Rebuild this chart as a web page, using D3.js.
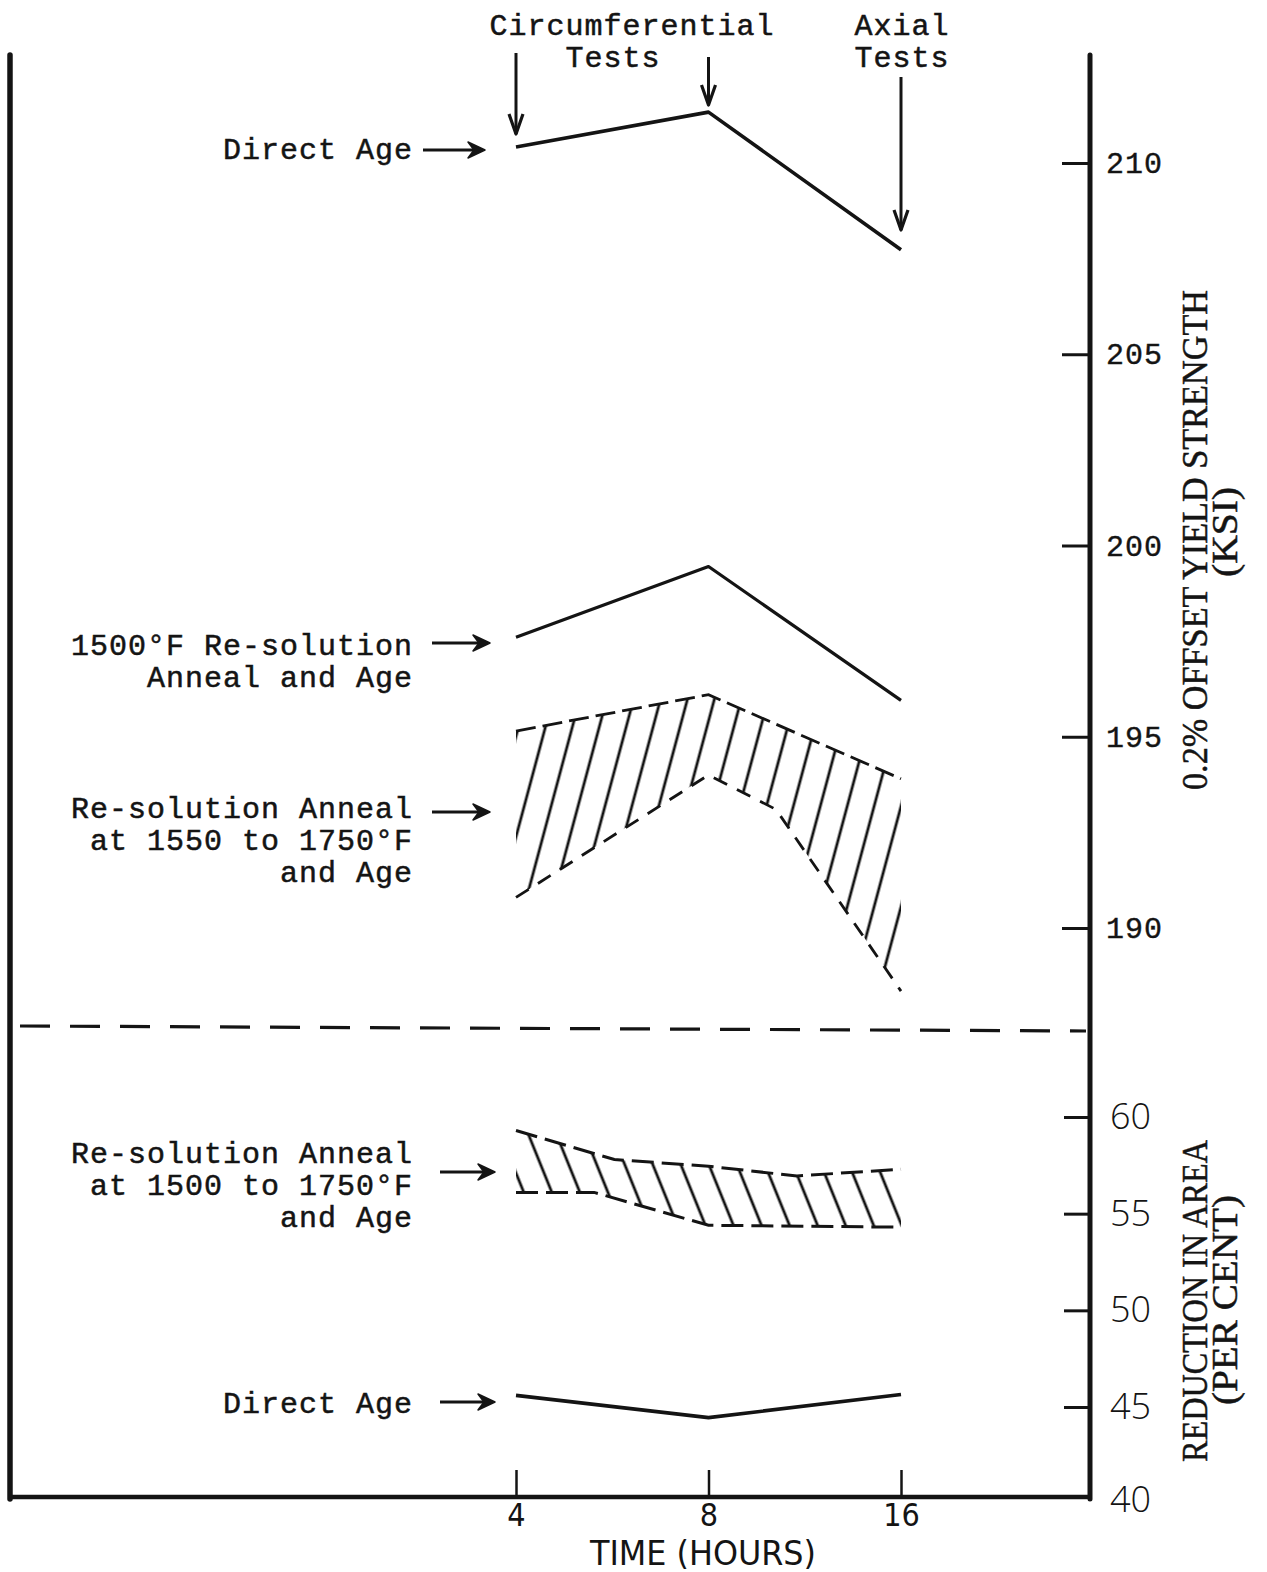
<!DOCTYPE html>
<html><head><meta charset="utf-8">
<script src="https://cdn.jsdelivr.net/npm/d3@7"></script>
<style>html,body{margin:0;padding:0;background:#fff;} svg{display:block;}</style>
</head><body>
<script>
// ---------------- data ----------------
const timeTicks = [4, 8, 16];
const hours = [4, 8, 16];
const directAgeYield = [210.42, 211.33, 207.73];
const resolution1500Yield = [197.6, 199.45, 195.95];
const bandYieldUpperHours = [4, 8, 16];
const bandYieldUpper = [195.15, 196.1, 193.9];
const bandYieldLowerHours = [4, 8, 10.2, 16];
const bandYieldLower = [190.8, 194.0, 193.1, 188.35];
const bandRAUpperHours = [4, 5.7, 8, 11, 16];
const bandRAUpper = [59.3, 57.8, 57.45, 56.95, 57.3];
const bandRALowerHours = [4, 5.3, 8, 16];
const bandRALower = [56.1, 56.1, 54.4, 54.3];
const directAgeRA = [45.6, 44.45, 45.65];
const yieldTicks = [190, 195, 200, 205, 210];
const raTicks = [40, 45, 50, 55, 60];

const W = 1267, H = 1572;
const svg = d3.select("body").append("svg").attr("width", W).attr("height", H)
  .style("background", "#fff");
const ink = "#141414";
const mono = "'Liberation Mono', 'DejaVu Sans Mono', monospace";
const narrow = "'Liberation Sans Narrow', 'DejaVu Sans Condensed', sans-serif";

// ---------------- scales ----------------
const x = d3.scaleLog().base(2).domain([4, 16]).range([516, 901]);
const yS = d3.scaleLinear().domain([190, 210]).range([928, 163]);
const yR = d3.scaleLinear().domain([45, 60]).range([1407, 1117]);

const frame = {left: 10, right: 1090, top: 55, bottom: 1497};

// ---------------- defs ----------------
const defs = svg.append("defs");
function hatch(id, rot, sp) {
  const p = defs.append("pattern").attr("id", id).attr("patternUnits", "userSpaceOnUse")
    .attr("width", sp).attr("height", sp).attr("patternTransform", `rotate(${rot})`);
  p.append("line").attr("x1", sp / 2).attr("x2", sp / 2).attr("y1", -1).attr("y2", sp + 1)
    .attr("stroke", ink).attr("stroke-width", 2.8);
}
hatch("hatchYield", 15, 26);
hatch("hatchRA", -22, 26);

// ---------------- frame ----------------
const g = svg.append("g");
g.append("line").attr("x1", frame.left).attr("x2", frame.left)
  .attr("y1", frame.top).attr("y2", frame.bottom + 2)
  .attr("stroke", ink).attr("stroke-width", 5.5).attr("stroke-linecap", "round");
g.append("line").attr("x1", frame.right).attr("x2", frame.right)
  .attr("y1", frame.top).attr("y2", frame.bottom + 2)
  .attr("stroke", ink).attr("stroke-width", 5).attr("stroke-linecap", "round");
g.append("line").attr("x1", frame.left).attr("x2", frame.right + 2)
  .attr("y1", frame.bottom).attr("y2", frame.bottom)
  .attr("stroke", ink).attr("stroke-width", 4.5);

// separator dashed line
g.append("line").attr("x1", 20).attr("x2", 1086).attr("y1", 1026).attr("y2", 1031)
  .attr("stroke", ink).attr("stroke-width", 3.2).attr("stroke-dasharray", "30,20");

// ---------------- axes ----------------
const axS = svg.append("g").attr("transform", `translate(${frame.right},0)`)
  .call(d3.axisRight(yS).tickValues(yieldTicks).tickSizeInner(-28).tickSizeOuter(0).tickPadding(16));
axS.select(".domain").remove();
axS.selectAll("line").attr("stroke", ink).attr("stroke-width", 3);
axS.selectAll("text").attr("font-family", mono).attr("font-size", 30)
  .attr("letter-spacing", 1).attr("fill", ink).attr("stroke", ink).attr("stroke-width", 0.4);

const axR = svg.append("g").attr("transform", `translate(${frame.right},0)`)
  .call(d3.axisRight(yR).tickValues(raTicks).tickSizeInner(-26).tickSizeOuter(0).tickPadding(20));
axR.select(".domain").remove();
axR.selectAll("line").attr("stroke", ink).attr("stroke-width", 3)
  .filter(d => d === 40).remove();
axR.selectAll("text").attr("font-family", "'Open Sans', 'DejaVu Sans', sans-serif")
  .attr("font-weight", 300).attr("font-size", 36).attr("fill", ink)
  .attr("dy", d => d === 40 ? "0.22em" : "0.32em");

const axX = svg.append("g").attr("transform", `translate(0,${frame.bottom})`)
  .call(d3.axisBottom(x).tickValues(timeTicks).tickFormat(d3.format("d"))
    .tickSizeInner(-27).tickSizeOuter(0).tickPadding(6));
axX.select(".domain").remove();
axX.selectAll("line").attr("stroke", ink).attr("stroke-width", 2.5);
axX.selectAll("text").attr("font-family", narrow)
  .attr("font-size", 32).attr("fill", ink);

svg.append("text").attr("x", 703).attr("y", 1565).attr("text-anchor", "middle")
  .attr("font-family", narrow).attr("font-size", 33).attr("fill", ink)
  .attr("textLength", 226).attr("lengthAdjust", "spacingAndGlyphs").text("TIME (HOURS)");

// rotated axis titles
function vtitle(txt, cx, cy, len) {
  svg.append("text").attr("transform", `translate(${cx},${cy}) rotate(-90)`)
    .attr("text-anchor", "middle").attr("font-family", "'Liberation Serif', 'DejaVu Serif', serif")
    .attr("font-size", 36).attr("fill", ink).attr("stroke", ink).attr("stroke-width", 0.5)
    .attr("textLength", len).attr("lengthAdjust", "spacingAndGlyphs").text(txt);
}
vtitle("0.2% OFFSET YIELD STRENGTH", 1207, 540, 500);
vtitle("(KSI)", 1237, 532, 90);
vtitle("REDUCTION IN AREA", 1207, 1301, 322);
vtitle("(PER CENT)", 1237, 1300, 210);

// ---------------- series ----------------
const lineFn = (ys) => d3.line().x(d => x(d[0])).y(d => ys(d[1]));
const zip = (a, b) => a.map((v, i) => [v, b[i]]);

function bandPath(uh, uv, lh, lv, ys) {
  const pts = zip(uh, uv).concat(zip(lh, lv).reverse());
  return lineFn(ys)(pts) + "Z";
}

// yield band (1550-1750 F)
svg.append("path").attr("d", bandPath(bandYieldUpperHours, bandYieldUpper, bandYieldLowerHours, bandYieldLower, yS))
  .attr("fill", "url(#hatchYield)").attr("stroke", "none");
svg.append("path").attr("d", lineFn(yS)(zip(bandYieldUpperHours, bandYieldUpper)))
  .attr("fill", "none").attr("stroke", ink).attr("stroke-width", 2.8).attr("stroke-dasharray", "20,7");
svg.append("path").attr("d", lineFn(yS)(zip(bandYieldLowerHours, bandYieldLower)))
  .attr("fill", "none").attr("stroke", ink).attr("stroke-width", 2.8).attr("stroke-dasharray", "15,11");

// reduction in area band (1500-1750 F)
svg.append("path").attr("d", bandPath(bandRAUpperHours, bandRAUpper, bandRALowerHours, bandRALower, yR))
  .attr("fill", "url(#hatchRA)").attr("stroke", "none");
svg.append("path").attr("d", lineFn(yR)(zip(bandRAUpperHours, bandRAUpper)))
  .attr("fill", "none").attr("stroke", ink).attr("stroke-width", 3).attr("stroke-dasharray", "22,8");
svg.append("path").attr("d", lineFn(yR)(zip(bandRALowerHours, bandRALower)))
  .attr("fill", "none").attr("stroke", ink).attr("stroke-width", 3).attr("stroke-dasharray", "22,8");

// solid lines
svg.append("path").attr("d", lineFn(yS)(zip(hours, directAgeYield)))
  .attr("fill", "none").attr("stroke", ink).attr("stroke-width", 3.6).attr("stroke-linejoin", "round");
svg.append("path").attr("d", lineFn(yS)(zip(hours, resolution1500Yield)))
  .attr("fill", "none").attr("stroke", ink).attr("stroke-width", 3.2).attr("stroke-linejoin", "round");
svg.append("path").attr("d", lineFn(yR)(zip(hours, directAgeRA)))
  .attr("fill", "none").attr("stroke", ink).attr("stroke-width", 3.6).attr("stroke-linejoin", "round");

// ---------------- annotations ----------------
function monoText(lines, xEnd, baselines, anchor) {
  lines.forEach((t, i) => {
    svg.append("text").attr("x", xEnd).attr("y", baselines[i])
      .attr("text-anchor", anchor || "end").attr("font-family", mono)
      .attr("font-size", 30).attr("letter-spacing", 1).attr("fill", ink)
      .attr("stroke", ink).attr("stroke-width", 0.5).text(t);
  });
}
function arrowRight(x1, x2, y) {
  svg.append("line").attr("x1", x1).attr("x2", x2 - 6).attr("y1", y).attr("y2", y)
    .attr("stroke", ink).attr("stroke-width", 3);
  svg.append("path").attr("d", `M${x2},${y} L${x2 - 17},${y - 8} L${x2 - 11},${y} L${x2 - 17},${y + 8} Z`)
    .attr("fill", ink).attr("stroke", ink).attr("stroke-width", 1.5).attr("stroke-linejoin", "round");
}
function arrowDown(xp, y1, y2) {
  svg.append("line").attr("x1", xp).attr("x2", xp).attr("y1", y1).attr("y2", y2)
    .attr("stroke", ink).attr("stroke-width", 3);
  svg.append("path").attr("d", `M${xp - 7},${y2 - 20} L${xp},${y2} L${xp + 7},${y2 - 20}`)
    .attr("fill", "none").attr("stroke", ink).attr("stroke-width", 3.2).attr("stroke-linejoin", "round");
}

monoText(["Circumferential"], 632, [35], "middle");
monoText(["Tests"], 613, [67], "middle");
monoText(["Axial"], 902, [35], "middle");
monoText(["Tests"], 902, [67], "middle");
arrowDown(x(4), 53, 134);
arrowDown(x(8), 57, 105);
arrowDown(x(16), 77, 230);

monoText(["Direct Age"], 413, [159]);
arrowRight(423, 485, 150);

monoText(["1500°F Re-solution", "Anneal and Age"], 413, [655, 687]);
arrowRight(432, 490, 643);

monoText(["Re-solution Anneal", "at 1550 to 1750°F", "and Age"], 413, [818, 850, 882]);
arrowRight(432, 490, 812);

monoText(["Re-solution Anneal", "at 1500 to 1750°F", "and Age"], 413, [1163, 1195, 1227]);
arrowRight(440, 495, 1172);

monoText(["Direct Age"], 413, [1413]);
arrowRight(440, 495, 1402);
</script>
</body></html>
